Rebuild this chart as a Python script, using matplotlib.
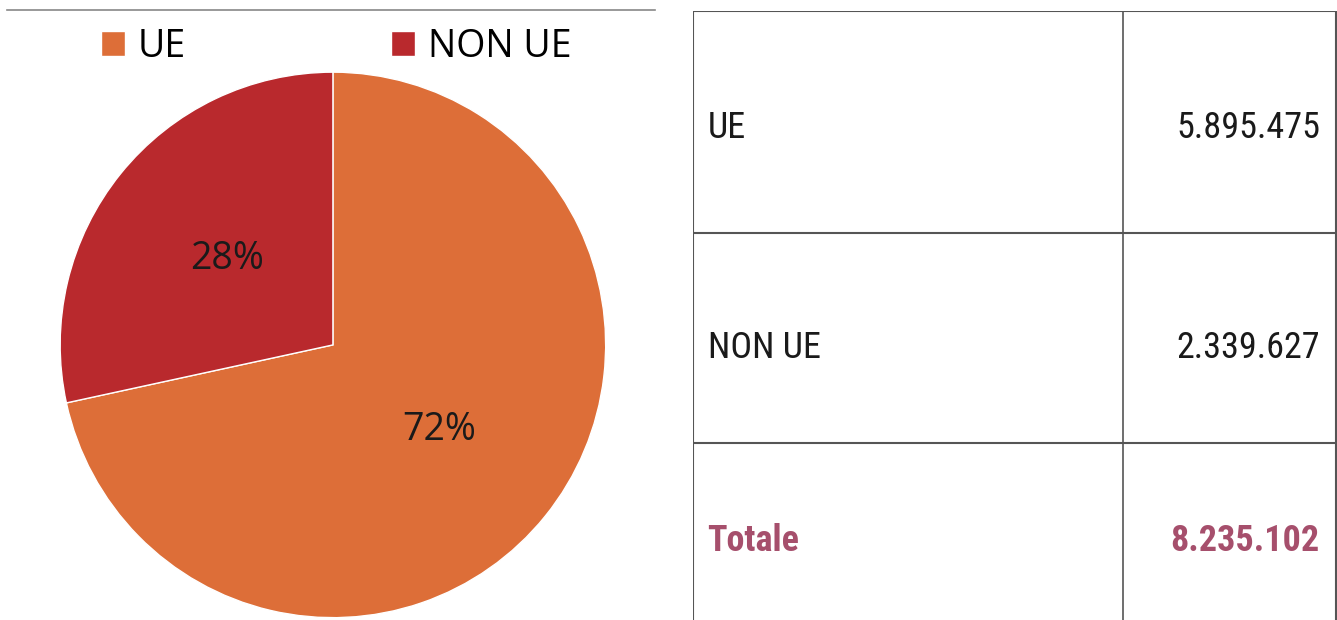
import matplotlib
matplotlib.use("Agg")
import matplotlib.pyplot as plt
from matplotlib import font_manager

# data
labels = ["UE", "NON UE"]
values = [5895475, 2339627]
colors = ["#DD6E38", "#B9292D"]
row_labels = ["UE", "NON UE", "Totale"]
row_values = ["5.895.475", "2.339.627", "8.235.102"]

# pick a narrow face for the table if one is installed
names = {f.name for f in font_manager.fontManager.ttflist}
narrow = "DejaVu Sans"
for cand in ["Roboto Condensed", "Liberation Sans Narrow", "Open Sans Condensed"]:
    if cand in names:
        narrow = cand
        break

fig = plt.figure(figsize=(13.37, 6.2), dpi=100)

# top rule over the pie
fig.add_artist(plt.Line2D([0.005, 0.49], [0.984, 0.984], color="#888888", lw=1.2))

# pie
ax = fig.add_axes([0.045, 0.0032, 0.408, 0.881])
wedges, _, autotexts = ax.pie(values, colors=colors, startangle=90, counterclock=False,
                              autopct=lambda p: f"{p:.0f}%", pctdistance=0.5,
                              wedgeprops=dict(edgecolor="white", linewidth=1),
                              textprops=dict(fontsize=27, family="Open Sans", color="#1a1a1a"))
ax.set_xlim(-1, 1)
ax.set_ylim(-1, 1)
ax.set_aspect("equal")

fig.legend(wedges, labels, loc="upper left", bbox_to_anchor=(0.050, 1.010), ncol=2,
           frameon=False, prop=dict(family="Open Sans", size=27),
           handlelength=0.65, handleheight=0.65, handletextpad=0.35, columnspacing=5.45)

# table
tx = fig.add_axes([0.518, 0.0, 0.482, 0.983])
tx.set_xlim(0, 644)
tx.set_ylim(610, 0)
tx.axis("off")
lc = "#555555"
row_edges = [0, 223, 433, 640]
for y in row_edges[:-1]:
    tx.axhline(y, color=lc, lw=1.5)
tx.axvline(0.5, color=lc, lw=1.5)
tx.axvline(430, color=lc, lw=1.2)
tx.axvline(643, color=lc, lw=1.5)
text_y = [118, 338, 531]
for i, (lab, val) in enumerate(zip(row_labels, row_values)):
    last = i == len(row_labels) - 1
    col = "#A64F6C" if last else "#1a1a1a"
    w = "bold" if last else "normal"
    kw = dict(va="center", fontsize=26, color=col, family=narrow,
              fontweight=w, fontstretch="condensed")
    tx.text(15, text_y[i], lab, ha="left", **kw)
    tx.text(627, text_y[i], val, ha="right", **kw)

fig.savefig("out.png", dpi=100)
